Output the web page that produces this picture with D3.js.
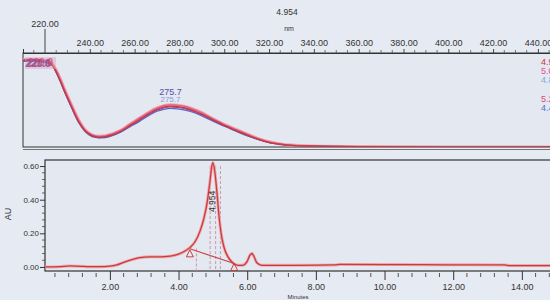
<!DOCTYPE html>
<html><head><meta charset="utf-8">
<script src="https://cdn.jsdelivr.net/npm/d3@7"></script>
<style>
html,body{margin:0;padding:0;background:#e6eaf2;}
svg{display:block;}
text{font-family:"Liberation Sans Narrow","Liberation Sans",Arial,sans-serif;}
</style></head>
<body><svg id="c" width="550" height="300" fill="#333"></svg>
<script>
// ---------- data ----------
// UV spectrum (nm, absorbance-relative)
const specWl   = [210,215,220,223,226,229,232,235,238,241,244,247,250,254,258,262,266,270,273,276,279,282,286,290,295,300,305,310,315,320,325,330,340,360,400,446];
const specRed  = [0.92,0.92,0.91,0.88,0.75,0.58,0.42,0.27,0.17,0.12,0.105,0.11,0.13,0.17,0.23,0.29,0.35,0.40,0.425,0.435,0.43,0.42,0.39,0.35,0.29,0.23,0.18,0.13,0.085,0.05,0.03,0.018,0.01,0.005,0.0,0.0];
const specPink = [0.93,0.93,0.92,0.89,0.77,0.60,0.44,0.29,0.18,0.13,0.115,0.12,0.14,0.18,0.245,0.305,0.365,0.415,0.44,0.45,0.445,0.435,0.405,0.365,0.30,0.24,0.19,0.14,0.092,0.055,0.033,0.02,0.011,0.005,0.0,0.0];
const specBlue = [0.91,0.91,0.90,0.87,0.74,0.57,0.41,0.26,0.16,0.11,0.098,0.10,0.12,0.16,0.215,0.27,0.33,0.38,0.40,0.41,0.405,0.395,0.37,0.33,0.275,0.22,0.17,0.12,0.08,0.047,0.028,0.016,0.009,0.004,0.0,0.0];
const specPurp = [0.92,0.92,0.905,0.875,0.745,0.575,0.415,0.265,0.165,0.115,0.10,0.105,0.125,0.165,0.225,0.28,0.34,0.39,0.415,0.425,0.42,0.41,0.38,0.34,0.285,0.225,0.175,0.125,0.083,0.049,0.029,0.017,0.01,0.005,0.0,0.0];
const wlTicks = [240,260,280,300,320,340,360,380,400,420,440];
const markWl = 220;
const peakLabel = "275.7";
const spectrumTitle = "4.954";
const startLabels = ["221.0","220.0","220.0"];
const rightLabels = ["4.96","5.06","4.87","5.24","4.49"];
const rightColors = ["#d03040","#e0508a","#80a8e0","#d84a80","#5070c8"];

// Chromatogram (minutes, AU)
const chromT  = [0.11,0.54,0.84,1.13,1.42,1.71,2.0,2.2,2.44,2.67,2.87,3.17,3.46,3.75,3.98,4.19,4.33,4.48,4.62,4.74,4.83,4.91,4.97,5.0,5.06,5.12,5.18,5.24,5.32,5.44,5.58,5.73,5.87,5.99,6.08,6.14,6.19,6.28,6.43,7.54,8.55,8.7,10.45,11.76,13.5,13.65,14.85];
const chromAU = [0.0,0.002,0.006,0.004,0.002,0.002,0.005,0.012,0.03,0.045,0.055,0.06,0.06,0.064,0.075,0.095,0.115,0.15,0.21,0.29,0.38,0.5,0.6,0.62,0.56,0.44,0.30,0.20,0.12,0.06,0.025,0.01,0.01,0.03,0.07,0.08,0.065,0.025,0.01,0.01,0.012,0.015,0.014,0.013,0.012,0.008,0.008];
const timeTicks = [2,4,6,8,10,12,14];
const auTicks = [0,0.2,0.4,0.6];
const peakRT = "4.954";
const baseStart = [4.33,0.108];
const baseEnd = [5.6,0.022];
const dropLines = [4.52,4.92,5.08,5.22];

// ---------- scales ----------
const svg = d3.select("#c");
const xT = d3.scaleLinear().domain([210.18,445.4]).range([23,550]);
const yT = d3.scaleLinear().domain([0,1]).range([147,53]);
const xB = d3.scaleLinear().domain([0.11,14.82]).range([45,550]);
const yB = d3.scaleLinear().domain([-0.024,0.636]).range([271,160]);

// ---------- top panel ----------
svg.append("rect").attr("x",23).attr("y",53).attr("width",540).attr("height",94)
  .attr("fill","#e4e8f1").attr("stroke","#333").attr("stroke-width",1);
svg.append("line").attr("x1",23).attr("x2",550).attr("y1",149.5).attr("y2",149.5).attr("stroke","#555").attr("stroke-width",0.8);

// top axis
const topAxis = d3.axisTop(xT).tickValues(wlTicks).tickFormat(d=>d3.format(".2f")(d)).tickSize(4).tickPadding(3);
const gTop = svg.append("g").attr("transform","translate(0,53)").call(topAxis);
gTop.select(".domain").attr("stroke","#333");
gTop.selectAll(".tick line").attr("stroke","#444");
gTop.selectAll("text").attr("font-size",9).style("fill","#333").style("font-family","Liberation Sans Narrow, Liberation Sans, sans-serif");
const minorWl = d3.range(215,446,5).filter(v=>v%20!==0);
svg.append("g").selectAll("line").data(minorWl).join("line")
  .attr("x1",d=>xT(d)).attr("x2",d=>xT(d)).attr("y1",53).attr("y2",50).attr("stroke","#555").attr("stroke-width",0.8);
// start marker
svg.append("line").attr("x1",xT(markWl)).attr("x2",xT(markWl)).attr("y1",29).attr("y2",53).attr("stroke","#444");
svg.append("text").attr("x",xT(markWl)).attr("y",27).attr("text-anchor","middle").attr("font-size",9).text(d3.format(".2f")(markWl));
svg.append("text").attr("x",287).attr("y",15).attr("text-anchor","middle").attr("font-size",8.5).text(spectrumTitle);
svg.append("text").attr("x",289).attr("y",31).attr("text-anchor","middle").attr("font-size",7).text("nm");

const lineT = d3.line().x((d,i)=>xT(specWl[i])).y(d=>yT(d)).curve(d3.curveMonotoneX);
svg.append("clipPath").attr("id","ct").append("rect").attr("x",23).attr("y",54).attr("width",530).attr("height",93);
const gSpec = svg.append("g").attr("clip-path","url(#ct)");
[[specPink,"#f0a0b0",3],[specBlue,"#5a66c8",1.2],[specPurp,"#8a4a9a",1.1],[specPink,"#e06080",1.1],[specRed,"#c83a3a",1.3]].forEach(([arr,c,w])=>{
  gSpec.append("path").attr("d",lineT(arr)).attr("fill","none").attr("stroke",c).attr("stroke-width",w);
});
svg.append("text").attr("x",xT(276)).attr("y",95).attr("text-anchor","middle").attr("font-size",9).style("fill","#5a4aa8").text(peakLabel);
svg.append("text").attr("x",xT(276)).attr("y",101.5).attr("text-anchor","middle").attr("font-size",8).style("fill","#6a80d0").attr("opacity",0.75).text(peakLabel);
// overlapping start labels
svg.append("rect").attr("x",25).attr("y",57).attr("width",31).attr("height",12).attr("fill","#e8a0b8").attr("opacity",0.45);
[["#6a6ad0",25,67],["#8a4aa0",26,66.5],["#c84060",28,66]].forEach(([c,x,y],i)=>{
  svg.append("text").attr("x",x).attr("y",y).attr("font-size",10).attr("font-weight","bold").style("fill",c).attr("opacity",0.7).text(startLabels[i]);
});
rightLabels.forEach((t,i)=>{
  const ys=[65,74,83,102,111];
  svg.append("text").attr("x",541).attr("y",ys[i]).attr("font-size",9).style("fill",rightColors[i]).text(t);
});

// ---------- bottom panel ----------
svg.append("rect").attr("x",45).attr("y",160).attr("width",520).attr("height",111)
  .attr("fill","#e4e8f1").attr("stroke","#333").attr("stroke-width",1.2);

// y axis
const yAx = d3.axisLeft(yB).tickValues(auTicks).tickFormat(d3.format(".2f")).tickSize(5).tickPadding(1);
const gy = svg.append("g").attr("transform","translate(45,0)").call(yAx);
gy.select(".domain").remove();
gy.selectAll(".tick line").attr("stroke","#333");
gy.selectAll("text").attr("font-size",8).style("fill","#333").style("font-family","Liberation Sans Narrow, Liberation Sans, sans-serif");
svg.append("g").selectAll("line").data(d3.range(0.04,0.62,0.04).filter(v=>Math.abs(v*5-Math.round(v*5))>0.01))
  .join("line").attr("x1",42).attr("x2",45).attr("y1",d=>yB(d)).attr("y2",d=>yB(d)).attr("stroke","#444").attr("stroke-width",0.8);
svg.append("text").attr("transform","translate(11,214) rotate(-90)").attr("text-anchor","middle").attr("font-size",9).text("AU");

// x axis
const xAx = d3.axisBottom(xB).tickValues(timeTicks).tickFormat(d3.format(".2f")).tickSize(9).tickPadding(4);
const gx = svg.append("g").attr("transform","translate(0,271)").call(xAx);
gx.select(".domain").remove();
gx.selectAll(".tick line").attr("stroke","#333");
gx.selectAll("text").attr("font-size",9).style("fill","#333").style("font-family","Liberation Sans Narrow, Liberation Sans, sans-serif");
svg.append("g").selectAll("line").data(d3.range(0.4,14.9,0.4).filter(v=>Math.abs(v/2-Math.round(v/2))>0.01))
  .join("line").attr("x1",d=>xB(d)).attr("x2",d=>xB(d)).attr("y1",273).attr("y2",277).attr("stroke","#444").attr("stroke-width",0.9);
svg.append("text").attr("x",298).attr("y",299).attr("text-anchor","middle").attr("font-size",6).text("Minutes");

// drop lines
svg.append("g").selectAll("line").data(dropLines).join("line")
  .attr("x1",d=>xB(d)).attr("x2",d=>xB(d)).attr("y1",(d,i)=>i===0?yB(0.11):yB(0.6)).attr("y2",271)
  .attr("stroke","#c890a0").attr("stroke-width",0.9).attr("stroke-dasharray","3,2");

const lineB = d3.line().x((d,i)=>xB(chromT[i])).y(d=>yB(d)).curve(d3.curveMonotoneX);
svg.append("clipPath").attr("id","cb").append("rect").attr("x",45).attr("y",160).attr("width",510).attr("height",111);
const gC = svg.append("g").attr("clip-path","url(#cb)");
gC.append("path").attr("d",lineB(chromAU)).attr("fill","none").attr("stroke","#f0a8b0").attr("stroke-width",3);
gC.append("path").attr("d",lineB(chromAU)).attr("fill","none").attr("stroke","#c83c3c").attr("stroke-width",1.3);
// integration baseline
gC.append("line").attr("x1",xB(baseStart[0])).attr("y1",yB(baseStart[1])).attr("x2",xB(baseEnd[0])).attr("y2",yB(baseEnd[1]))
  .attr("stroke","#c84848").attr("stroke-width",1.2);
// triangles
[[baseStart[0],baseStart[1]-0.03],[baseEnd[0]+0.02,baseEnd[1]-0.025]].forEach(([t,v])=>{
  const x=xB(t), y=yB(v);
  svg.append("path").attr("d",`M${x-3.5},${y+3}L${x},${y-4}L${x+3.5},${y+3}Z`).attr("fill","none").attr("stroke","#c84040").attr("stroke-width",1);
});
svg.append("text").attr("transform",`translate(${xB(4.96)+3},212) rotate(-90)`).attr("font-size",8.5).style("fill","#333").text(peakRT);
</script></body></html>
